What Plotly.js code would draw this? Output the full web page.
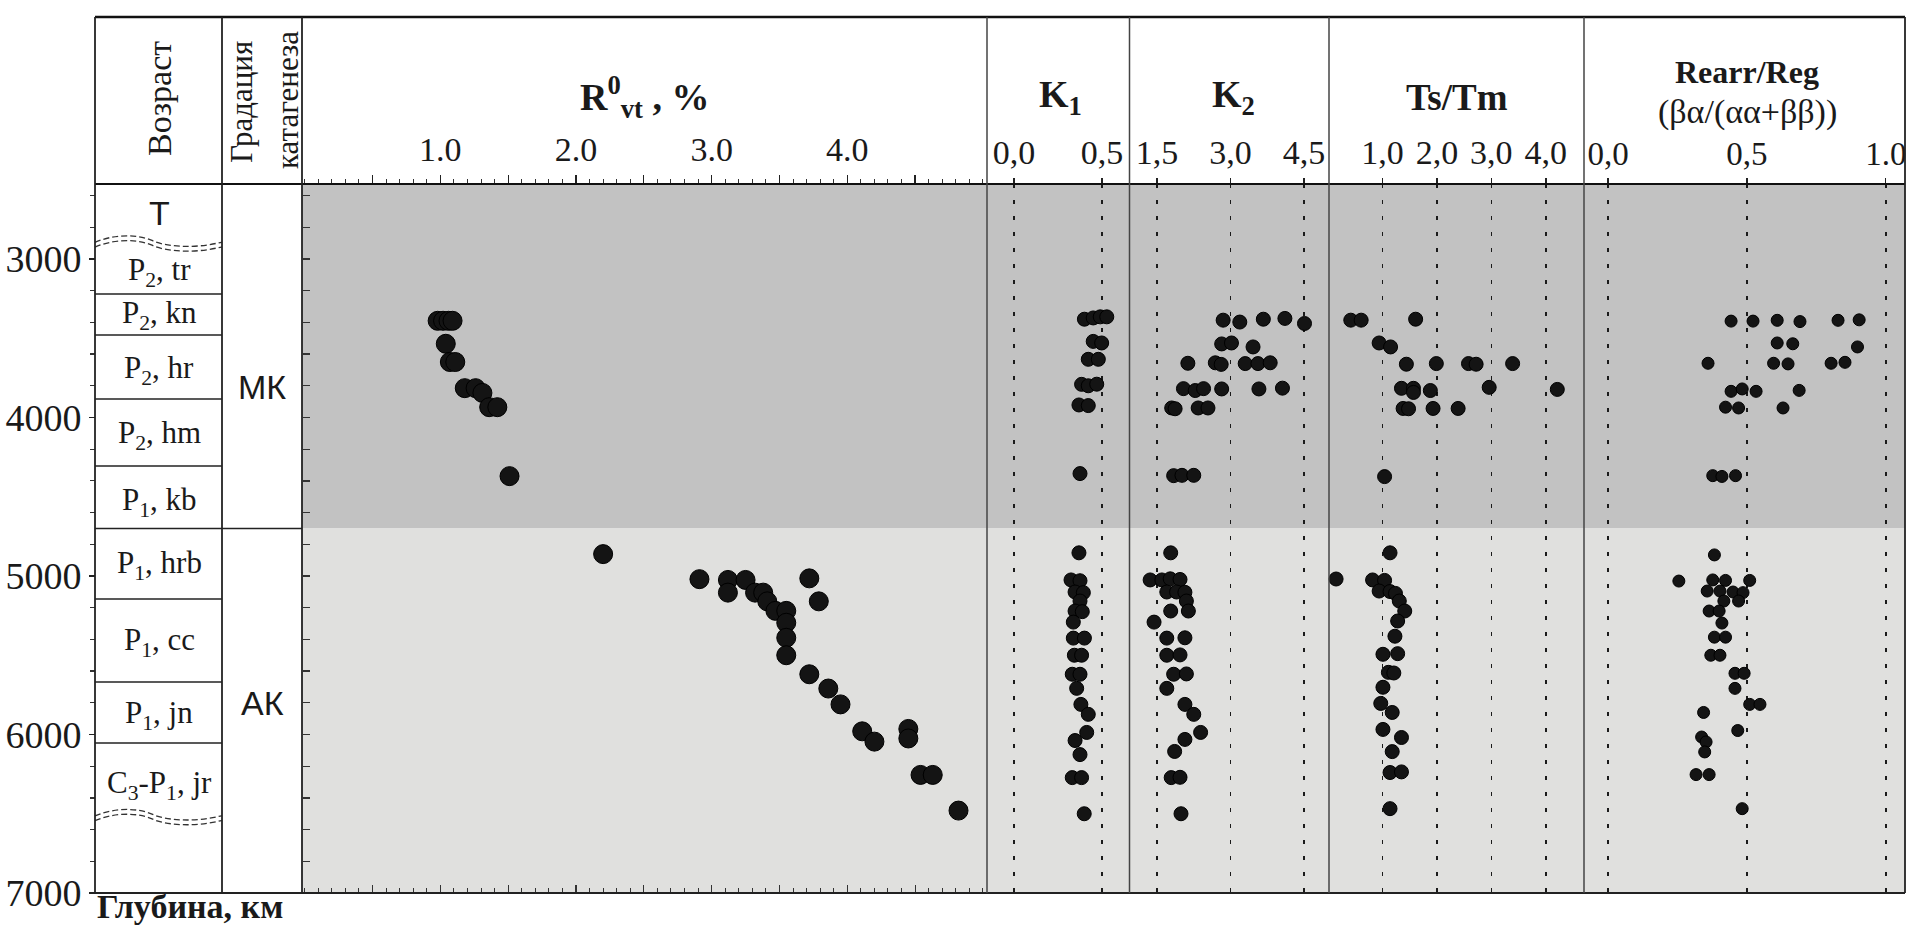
<!DOCTYPE html>
<html><head><meta charset="utf-8">
<script src="https://cdn.plot.ly/plotly-3.0.1.min.js"></script>
<style>html,body{margin:0;padding:0;background:#fff}#chart{width:1907px;height:929px}</style>
</head><body><div id="chart"></div>
<script>
// ---------- DATA ----------
const depthTickVals = [3000, 4000, 5000, 6000, 7000];
const depthTickText = ['3000', '4000', '5000', '6000', '7000'];

const rTickVals = [1, 2, 3, 4];
const rTickText = ['1.0', '2.0', '3.0', '4.0'];
const rHalfTickVals = [0.5, 1.5, 2.5, 3.5, 4.5];
const k1TickVals = [0, 0.5];
const k1TickText = ['0,0', '0,5'];
const k2TickVals = [1.5, 3, 4.5];
const k2TickText = ['1,5', '3,0', '4,5'];
const tsTickVals = [1, 2, 3, 4];
const tsTickText = ['1,0', '2,0', '3,0', '4,0'];
const rrTickVals = [0, 0.5, 1];
const rrTickText = ['0,0', '0,5', '1.0'];

// Vitrinite reflectance R0vt, %
const rValue = [0.98, 1.02, 1.06, 1.09, 1.04, 1.07, 1.11, 1.18, 1.26, 1.31, 1.36, 1.42, 1.51,
  2.20, 2.91, 3.12, 3.12, 3.25, 3.32, 3.38, 3.41, 3.47, 3.55, 3.55, 3.55, 3.55, 3.72, 3.79, 3.72,
  3.86, 3.95, 4.11, 4.20, 4.45, 4.45, 4.54, 4.63, 4.82];
const rDepth = [3390, 3390, 3390, 3390, 3535, 3650, 3650, 3815, 3815, 3845, 3935, 3935, 4370,
  4862, 5020, 5025, 5105, 5025, 5105, 5105, 5160, 5220, 5220, 5295, 5390, 5500, 5015, 5160, 5620,
  5710, 5810, 5980, 6045, 5965, 6025, 6255, 6255, 6480];

// K1
const k1Value = [0.40, 0.45, 0.49, 0.527, 0.45, 0.498, 0.422, 0.479, 0.384, 0.422, 0.47, 0.369, 0.422, 0.375,
  0.369, 0.324, 0.375, 0.347, 0.394, 0.375, 0.347, 0.388, 0.337, 0.337, 0.40, 0.343, 0.384, 0.331, 0.375,
  0.356, 0.38, 0.422, 0.413, 0.347, 0.375, 0.331, 0.384, 0.399];
const k1Depth = [3380, 3372, 3365, 3365, 3520, 3530, 3633, 3633, 3791, 3800, 3790, 3921, 3925, 4354,
  4854, 5025, 5030, 5101, 5105, 5158, 5221, 5225, 5291, 5392, 5392, 5500, 5500, 5620, 5620,
  5709, 5810, 5873, 5987, 6038, 6127, 6272, 6272, 6500];

// K2
const k2Value = [2.85, 3.19, 3.67, 4.11, 4.51, 2.82, 3.02, 3.46, 2.13, 2.69, 2.81, 3.30, 3.56, 3.81,
  2.04, 2.28, 2.45, 2.82, 3.58, 4.06, 1.80, 1.87, 2.34, 2.54, 1.84, 2.01, 2.25,
  1.78, 1.36, 1.60, 1.77, 1.97, 1.70, 1.90, 2.07, 2.10, 1.78, 2.14, 1.44, 1.70, 2.07, 1.70, 1.97,
  1.84, 2.10, 1.70, 2.07, 2.25, 2.39, 2.07, 1.86, 1.79, 1.97, 1.99];
const k2Depth = [3386, 3398, 3380, 3375, 3407, 3536, 3530, 3555, 3658, 3655, 3665, 3660, 3660, 3655,
  3818, 3830, 3818, 3820, 3820, 3815, 3940, 3945, 3940, 3940, 4367, 4365, 4365,
  4854, 5025, 5025, 5018, 5022, 5101, 5101, 5103, 5158, 5221, 5221, 5291, 5392, 5390, 5500, 5498,
  5620, 5618, 5709, 5810, 5873, 5987, 6031, 6107, 6272, 6270, 6500];

// Ts/Tm
const tsValue = [0.42, 0.61, 1.61, 0.94, 1.15, 1.44, 1.99, 2.58, 2.72, 3.39, 1.35, 1.57, 1.57, 1.88, 2.96, 4.21,
  1.38, 1.48, 1.93, 2.39, 1.04,
  1.14, 0.15, 0.82, 1.04, 0.94, 1.14, 1.24, 1.31, 1.41, 1.28, 1.23, 1.01, 1.28, 1.11, 1.21, 1.01,
  0.97, 1.18, 1.01, 1.35, 1.18, 1.14, 1.35, 1.14];
const tsDepth = [3386, 3386, 3380, 3530, 3555, 3664, 3660, 3660, 3664, 3660, 3816, 3816, 3842, 3830, 3810, 3823,
  3943, 3945, 3943, 3943, 4373,
  4854, 5019, 5025, 5028, 5095, 5098, 5110, 5158, 5221, 5284, 5380, 5494, 5490, 5608, 5612, 5702,
  5804, 5861, 5968, 6019, 6108, 6240, 6236, 6468];

// Rearr/Reg (βα/(αα+ββ))
const rrValue = [0.443, 0.522, 0.609, 0.691, 0.828, 0.904, 0.609, 0.665, 0.898, 0.36, 0.596, 0.648, 0.803, 0.853,
  0.443, 0.483, 0.533, 0.688, 0.423, 0.47, 0.63, 0.377, 0.41, 0.459,
  0.383, 0.255, 0.377, 0.423, 0.51, 0.357, 0.403, 0.45, 0.486, 0.47, 0.417, 0.364, 0.40, 0.41,
  0.383, 0.423, 0.37, 0.403, 0.457, 0.49, 0.457, 0.51, 0.547, 0.344, 0.467, 0.337, 0.353, 0.348,
  0.317, 0.364, 0.483];
const rrDepth = [3392, 3392, 3387, 3395, 3387, 3384, 3530, 3535, 3555, 3658, 3658, 3662, 3658, 3652,
  3835, 3820, 3835, 3829, 3935, 3940, 3940, 4367, 4372, 4367,
  4867, 5032, 5025, 5028, 5028, 5095, 5095, 5101, 5105, 5158, 5158, 5221, 5221, 5297,
  5386, 5386, 5500, 5500, 5614, 5614, 5709, 5810, 5810, 5861, 5975, 6016, 6047, 6110,
  6253, 6253, 6468];

// Stratigraphy (age column)
const ageLabels = ['T', 'P<sub>2</sub>, tr', 'P<sub>2</sub>, kn', 'P<sub>2</sub>, hr', 'P<sub>2</sub>, hm',
  'P<sub>1</sub>, kb', 'P<sub>1</sub>, hrb', 'P<sub>1</sub>, cc', 'P<sub>1</sub>, jn', 'C<sub>3</sub>-P<sub>1</sub>, jr'];
const ageLabelDepth = [2710, 3082, 3353, 3700, 4110, 4533, 4931, 5416, 5877, 6319];
const ageBoundaries = [3221, 3480, 3883, 4306, 4700, 5145, 5669, 6054];
const unconformities = [2893, 6512];

// Catagenesis zones
const zoneNames = ['МК', 'АК'];
const zoneTop = [2527, 4700];
const zoneBottom = [4700, 7000];
const zoneLabelDepth = [3808, 5801];
const zoneColors = ['#c2c2c2', '#e0e0de'];

// ---------- LAYOUT ----------
const W = 1907, H = 929;
const px = v => v / W;
const py = v => 1 - v / H;
const SERIF = 'Liberation Serif';
const SANS = 'Liberation Sans';
const INK = '#1a1a1a';

const yTop = 2527, yBot = 7000;

function topAxis(d0, d1, range, tv, tt, grid) {
  return {
    domain: [px(d0), px(d1)], range: range, side: 'top', anchor: 'y',
    tickmode: 'array', tickvals: tv, ticktext: tt,
    ticks: 'outside', ticklen: 5, tickwidth: 1.3, tickcolor: '#222',
    showline: false, zeroline: false,
    showgrid: grid, gridcolor: '#1a1a1a', gridwidth: 1.6, griddash: '4px,12px',
    tickfont: {family: SERIF, size: 34, color: INK}, automargin: false, fixedrange: true
  };
}

const rRange = [-0.02, 5.03];
const layout = {
  width: W, height: H,
  margin: {l: 0, r: 0, t: 0, b: 0},
  font: {family: SERIF, color: INK},
  paper_bgcolor: '#ffffff', plot_bgcolor: 'rgba(0,0,0,0)',
  showlegend: false, hovermode: false,
  xaxis: Object.assign(topAxis(302, 987, rRange, rTickVals, rTickText, false), {
    ticklen: 8, minor: {dtick: 0.1, tick0: 0, ticks: 'outside', ticklen: 4, tickcolor: '#333', tickwidth: 1, showgrid: false}
  }),
  xaxis2: topAxis(987, 1129.5, [-0.153, 0.656], k1TickVals, k1TickText, true),
  xaxis3: topAxis(1129.5, 1329, [0.939, 5.01], k2TickVals, k2TickText, true),
  xaxis4: topAxis(1329, 1584, [0.02, 4.70], tsTickVals, tsTickText, true),
  xaxis5: Object.assign(topAxis(1584, 1905, [-0.0864, 1.069], rrTickVals, rrTickText, true), {
    ticklabeloverflow: 'allow', tickfont: {family: SERIF, size: 33, color: INK}
  }),
  xaxis8: {
    overlaying: 'x', side: 'bottom', anchor: 'y', range: rRange,
    tickmode: 'array', tickvals: rTickVals.concat(rHalfTickVals), ticks: 'inside', ticklen: 8, tickcolor: '#333', tickwidth: 1.2,
    minor: {dtick: 0.1, tick0: 0, ticks: 'inside', ticklen: 5, tickcolor: '#333', tickwidth: 1, showgrid: false},
    showticklabels: false, showline: false, zeroline: false, showgrid: false, fixedrange: true
  },
  xaxis9: {
    overlaying: 'x', side: 'top', anchor: 'y', range: rRange,
    tickmode: 'array', tickvals: rHalfTickVals, ticks: 'outside', ticklen: 8, tickcolor: '#222', tickwidth: 1.3,
    showticklabels: false, showline: false, zeroline: false, showgrid: false, fixedrange: true
  },
  yaxis: {
    domain: [py(893), py(184)], range: [yBot, yTop], anchor: 'free', position: px(95), side: 'left',
    tickmode: 'array', tickvals: depthTickVals, ticktext: depthTickText,
    ticks: 'outside', ticklen: 6, tickcolor: '#222', tickwidth: 1.3,
    minor: {dtick: 200, tick0: 0, ticks: 'outside', ticklen: 5, tickcolor: '#333', tickwidth: 1.2, showgrid: false},
    showline: false, zeroline: false, showgrid: false,
    tickfont: {family: SERIF, size: 38, color: INK}, automargin: false, fixedrange: true
  },
  yaxis2: {
    overlaying: 'y', anchor: 'free', position: px(302), side: 'left', range: [yBot, yTop],
    tickmode: 'linear', tick0: 0, dtick: 200, ticks: 'inside', ticklen: 7, tickcolor: '#333', tickwidth: 1.3,
    showticklabels: false, showline: false, zeroline: false, showgrid: false, fixedrange: true
  },
  shapes: [], annotations: []
};

// background zones
zoneNames.forEach((z, i) => {
  layout.shapes.push({type: 'rect', xref: 'paper', yref: 'y', x0: px(302), x1: px(1905),
    y0: zoneTop[i], y1: zoneBottom[i], fillcolor: zoneColors[i], line: {width: 0}, layer: 'below'});
  layout.annotations.push({xref: 'paper', yref: 'y', x: px(262), y: zoneLabelDepth[i], text: z,
    showarrow: false, font: {family: SANS, size: 34, color: INK}, xanchor: 'center', yanchor: 'middle'});
});
// zone boundary in the catagenesis column
layout.shapes.push({type: 'line', xref: 'paper', yref: 'y', x0: px(222), x1: px(302), y0: zoneTop[1], y1: zoneTop[1],
  line: {color: '#222', width: 1.6}, layer: 'above'});

// age column
ageBoundaries.forEach(d => {
  layout.shapes.push({type: 'line', xref: 'paper', yref: 'y', x0: px(95), x1: px(222), y0: d, y1: d,
    line: {color: '#222', width: 1.6}, layer: 'above'});
});
ageLabels.forEach((t, i) => {
  layout.annotations.push({xref: 'paper', yref: 'y', x: px(159), y: ageLabelDepth[i], text: t,
    showarrow: false, xanchor: 'center', yanchor: 'middle',
    font: {family: i === 0 ? SANS : SERIF, size: i === 0 ? 34 : 31, color: INK}});
});
// wavy unconformity lines (double dashed)
function wave(d, off) {
  const b = d + off;
  return 'M ' + px(95) + ',' + (b + 2) +
    ' C ' + px(112) + ',' + (b - 45) + ' ' + px(135) + ',' + (b - 55) + ' ' + px(152) + ',' + (b - 10) +
    ' C ' + px(165) + ',' + (b + 30) + ' ' + px(195) + ',' + (b + 45) + ' ' + px(222) + ',' + b;
}
unconformities.forEach(d => {
  [0, 30].forEach(off => {
    layout.shapes.push({type: 'path', xref: 'paper', yref: 'y', path: wave(d, off),
      line: {color: '#333', width: 1.3, dash: '6px,3px'}, layer: 'above'});
  });
});

// frame lines
function pline(x0, y0, x1, y1, w, c) {
  layout.shapes.push({type: 'line', xref: 'paper', yref: 'paper', x0: px(x0), y0: py(y0), x1: px(x1), y1: py(y1),
    line: {color: c || '#222', width: w}, layer: 'above'});
}
pline(95, 17, 1905, 17, 2.6, '#111');
pline(95, 184, 1905, 184, 2.2, '#111');
pline(95, 893, 1905, 893, 1.8, '#222');
[95, 222, 302, 1905].forEach(x => pline(x, 17, x, 893, 1.8, '#222'));
[987, 1129.5, 1329, 1584].forEach(x => pline(x, 17, x, 893, 1.5, '#444'));

// header texts
function ann(x, y, text, size, extra) {
  layout.annotations.push(Object.assign({xref: 'paper', yref: 'paper', x: px(x), y: py(y), text: text,
    showarrow: false, xanchor: 'center', yanchor: 'middle', font: {family: SERIF, size: size, color: INK}}, extra || {}));
}
ann(159, 99, 'Возраст', 34, {textangle: -90});
ann(242, 102, 'Градация', 31, {textangle: -90});
ann(287, 100, 'катагенеза', 31, {textangle: -90});
ann(644, 97, '<b>R<sup>0</sup><sub>vt</sub> , %</b>', 38);
ann(1060, 97, '<b>K<sub>1</sub></b>', 38);
ann(1233, 97, '<b>K<sub>2</sub></b>', 38);
ann(1457, 97, '<b>Ts/Tm</b>', 37);
ann(1747, 72, '<b>Rearr/Reg</b>', 32);
ann(1747, 112, '(βα/(αα+ββ))', 34);
ann(190, 906, '<b>Глубина, км</b>', 34);

// ---------- TRACES ----------
function pts(x, y, xa, size) {
  return {type: 'scatter', mode: 'markers', x: x, y: y, xaxis: xa, yaxis: 'y', cliponaxis: false,
    marker: {color: '#141414', size: size, line: {color: '#000', width: 1}}};
}
const data = [
  pts(rValue, rDepth, 'x', 19),
  pts(k1Value, k1Depth, 'x2', 14),
  pts(k2Value, k2Depth, 'x3', 14),
  pts(tsValue, tsDepth, 'x4', 14),
  pts(rrValue, rrDepth, 'x5', 12),
  {type: 'scatter', mode: 'markers', x: [], y: [], xaxis: 'x8', yaxis: 'y'},
  {type: 'scatter', mode: 'markers', x: [], y: [], xaxis: 'x9', yaxis: 'y'},
  {type: 'scatter', mode: 'markers', x: [], y: [], xaxis: 'x', yaxis: 'y2'}
];

Plotly.newPlot('chart', data, layout, {staticPlot: true, displayModeBar: false});
</script>
</body></html>
